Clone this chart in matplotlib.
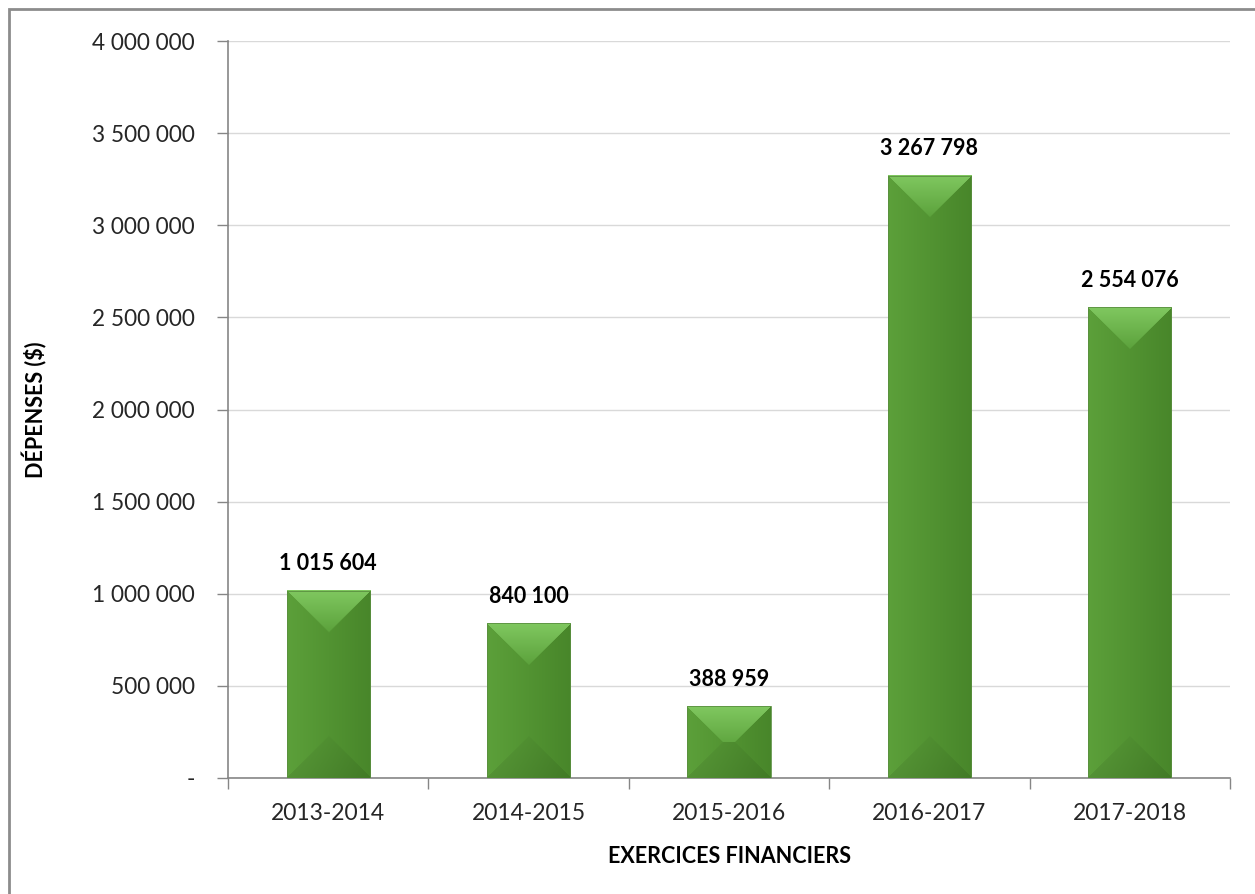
import matplotlib
matplotlib.use("Agg")
import matplotlib.pyplot as plt
from matplotlib.patches import Rectangle
from matplotlib.ticker import FuncFormatter, FixedLocator
import numpy as np

exercices = ["2013-2014", "2014-2015", "2015-2016", "2016-2017", "2017-2018"]
depenses = [1015604, 840100, 388959, 3267798, 2554076]
y_ticks = [0, 500000, 1000000, 1500000, 2000000, 2500000, 3000000, 3500000, 4000000]

plt.rcParams["font.family"] = ["Lato", "DejaVu Sans"]
TXT = "#262626"
AXIS = "#868686"


def fmt_fr(v, pos=None):
    # Excel-style accounting format: spaces for thousands, dash for zero
    if v == 0:
        return "-"
    return f"{int(round(v)):,}".replace(",", " ")


def bevel_image(w_px, h_px):
    # colour each pixel of the bar by its nearest edge (bevel frame)
    xs = np.arange(w_px) + 0.5
    ys = np.arange(h_px) + 0.5
    X, Y = np.meshgrid(xs, ys)
    d = np.stack([Y, h_px - Y, X, w_px - X])
    region = np.argmin(d, axis=0)

    t = X / w_px
    left_c = np.array([92, 160, 58]) / 255
    right_c = np.array([72, 134, 42]) / 255
    img = left_c * (1 - t[..., None]) + right_c * t[..., None]

    half = w_px / 2
    k = np.clip(Y / half, 0, 1)[..., None]
    top_hi = np.array([128, 200, 96]) / 255
    top_lo = np.array([92, 162, 60]) / 255
    top_col = top_hi * (1 - k) + top_lo * k
    img = np.where((region == 0)[..., None], top_col, img)

    kb = np.clip((h_px - Y) / half, 0, 1)[..., None]
    bot_col = img * (0.91 + 0.06 * kb)
    img = np.where((region == 1)[..., None], bot_col, img)
    return np.clip(img, 0, 1)


fig = plt.figure(figsize=(12.55, 8.94), dpi=100)
W, H = 1255, 894
ax = fig.add_axes([228 / W, 1 - 778 / H, (1230 - 228) / W, (778 - 41) / H])

x = np.arange(len(exercices))
ax.set_xlim(-0.5, len(exercices) - 0.5)
ax.set_ylim(0, 4000000)

bars = ax.bar(x, depenses, width=0.415, color="none", edgecolor="none", zorder=3)

# bevelled fill for each bar, sized in pixels from the axes transform
for rect in bars:
    x0, y0 = rect.get_x(), rect.get_y()
    x1, y1 = x0 + rect.get_width(), y0 + rect.get_height()
    (px0, py0), (px1, py1) = ax.transData.transform([(x0, y0), (x1, y1)])
    w_px = max(int(round(px1 - px0)), 2)
    h_px = max(int(round(py1 - py0)), 2)
    img = bevel_image(w_px, h_px)
    ax.imshow(img, extent=(x0, x1, y0, y1), aspect="auto", zorder=3,
              interpolation="bilinear")
    ax.add_patch(Rectangle((x0, y0), x1 - x0, y1 - y0, facecolor="none",
                           edgecolor="#5a8f40", linewidth=0.6, zorder=4))

for xi, v in zip(x, depenses):
    ax.annotate(fmt_fr(v), (xi, v), xytext=(0, 12), textcoords="offset points",
                ha="center", va="bottom", fontsize=15.5, fontweight="bold",
                color="black")

ax.set_xlim(-0.5, len(exercices) - 0.5)
ax.set_ylim(0, 4000000)

ax.yaxis.set_major_locator(FixedLocator(y_ticks))
ax.yaxis.set_major_formatter(FuncFormatter(fmt_fr))
ax.grid(axis="y", color="#d9d9d9", linewidth=1.0, zorder=0)
ax.set_axisbelow(True)

ax.set_xticks(x)
ax.set_xticklabels(exercices)
ax.set_xticks(np.arange(-0.5, len(exercices)), minor=True)
ax.tick_params(axis="x", which="major", length=0, pad=18, labelsize=16.5,
               labelcolor=TXT)
ax.tick_params(axis="x", which="minor", length=8, width=1, color=AXIS,
               direction="out")
ax.tick_params(axis="y", length=8, width=1, color=AXIS, pad=16,
               labelsize=16.3, labelcolor=TXT)

for side in ("top", "right"):
    ax.spines[side].set_visible(False)
for side in ("left", "bottom"):
    ax.spines[side].set_color(AXIS)
    ax.spines[side].set_linewidth(1.2)

ax.set_ylabel("DÉPENSES ($)", fontsize=15.5, fontweight="bold", color="black",
              labelpad=0)
ax.yaxis.set_label_coords((47 - 228) / (1230 - 228), 0.5)
ax.set_xlabel("EXERCICES FINANCIERS", fontsize=15.5, fontweight="bold",
              color="black")
ax.xaxis.set_label_coords(0.5, -(846 - 778) / (778 - 41))

# chart frame, open to the right and bottom
fig.patches.append(Rectangle((9 / W, -0.1), 1.2, 1 - 9 / H + 0.1,
                             transform=fig.transFigure, fill=False,
                             edgecolor="#8c8c8c", linewidth=2))

fig.savefig("out.png", dpi=100, facecolor="white")
